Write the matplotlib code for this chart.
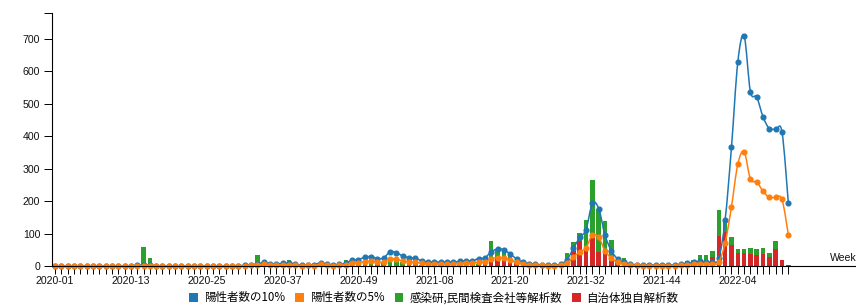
import matplotlib
matplotlib.use("Agg")
import matplotlib.pyplot as plt
from matplotlib.patches import Patch, PathPatch
from matplotlib.path import Path
import numpy as np

plt.rcParams['font.family'] = ['Liberation Sans', 'Noto Sans CJK JP', 'DejaVu Sans']

# ---- categories: weeks 2020-01 .. 2022-12 ----
weeks_per_year = {2020: 53, 2021: 52, 2022: 12}
weeks = []
for yr, n in weeks_per_year.items():
    for w in range(1, n + 1):
        weeks.append(f"{yr}-{w:02d}")

label_every = 12

# ---- series ----
# 陽性者数の10%
pos10 = [
    0, 0, 0, 0, 0, 0, 0, 0, 0, 0,          # 0-9
    0, 0, 1, 2, 3, 2, 1, 0, 0, 0,          # 10-19
    0, 0, 0, 0, 0, 0, 0, 0, 1, 1,          # 20-29
    2, 4, 6, 11, 7, 6, 8, 8, 5, 3,         # 30-39
    4, 3, 10, 5, 3, 5, 8, 18, 20, 27,      # 40-49
    29, 23, 25, 44, 41, 31, 26, 24, 16, 12,  # 50-59
    12, 12, 12, 12, 14, 16, 16, 23, 25, 44,  # 60-69
    52, 50, 37, 22, 12, 7, 5, 4, 3, 3,     # 70-79
    5, 20, 54, 88, 112, 193, 177, 95, 47, 22,  # 80-89
    12, 6, 4, 3, 3, 3, 3, 3, 3, 5,         # 90-99
    8, 11, 14, 12, 12, 24, 142, 365, 627, 709,  # 100-109
    537, 520, 459, 423, 421, 412, 194,     # 110-116
]
# 陽性者数の5%
pos5 = [
    0, 0, 0, 0, 0, 0, 0, 0, 0, 0,
    0, 0, 0.5, 1, 1.5, 1, 0.5, 0, 0, 0,
    0, 0, 0, 0, 0, 0, 0, 0, 0.5, 0.5,
    1, 2, 3, 5.5, 3.5, 3, 4, 4, 2.5, 1.5,
    2, 1.5, 5, 2.5, 1.5, 2.5, 4, 9, 10, 13.5,
    14.5, 11.5, 12.5, 22, 20.5, 15.5, 13, 12, 8, 6,
    6, 6, 6, 6, 7, 8, 8, 11.5, 12.5, 22,
    26, 25, 18.5, 11, 6, 3.5, 2.5, 2, 1.5, 1.5,
    2.5, 10, 27, 44, 56, 96, 88, 47, 24, 11,
    6, 3, 2, 1.5, 1.5, 1.5, 1.5, 1.5, 1.5, 2.5,
    4, 5.5, 7, 6, 6, 12, 71, 182, 313, 352,
    267, 259, 230, 211, 211, 205, 96,
]
# 自治体独自解析数 (red, bottom of stack)
local = [
    0, 0, 0, 0, 0, 0, 0, 0, 0, 0,
    0, 0, 0, 0, 0, 0, 0, 0, 0, 0,
    0, 0, 0, 0, 0, 0, 0, 0, 0, 0,
    0, 0, 0, 0, 0, 0, 0, 0, 0, 0,
    0, 0, 0, 0, 0, 0, 0, 0, 0, 0,
    0, 0, 0, 0, 0, 0, 0, 0, 0, 0,
    0, 0, 0, 0, 0, 0, 0, 2, 5, 14,
    25, 22, 15, 6, 3, 1, 0, 0, 0, 0,
    0, 8, 45, 78, 56, 88, 44, 38, 30, 10,
    3, 1, 0, 0, 0, 0, 0, 0, 0, 0,
    5, 8, 15, 12, 28, 91, 105, 66, 41, 41,
    38, 35, 36, 29, 51, 19, 4,
]
# 感染研,民間検査会社等解析数 (green, top of stack)
niid = [
    0, 0, 0, 0, 0, 0, 0, 0, 0, 0,
    0, 0, 0, 2, 57, 24, 2, 0, 0, 0,
    0, 0, 0, 0, 0, 0, 0, 0, 0, 0,
    2, 8, 34, 10, 6, 6, 9, 20, 5, 2,
    3, 2, 4, 3, 2, 3, 18, 8, 8, 10,
    12, 8, 10, 20, 14, 12, 6, 5, 4, 3,
    3, 3, 3, 4, 4, 4, 5, 4, 13, 62,
    25, 24, 15, 9, 5, 3, 3, 2, 2, 2,
    3, 31, 28, 25, 87, 176, 133, 102, 50, 8,
    22, 3, 3, 3, 3, 2, 3, 3, 4, 5,
    11, 12, 20, 22, 18, 80, 37, 23, 12, 12,
    17, 16, 20, 12, 25, 0, 0,
]

series_names = ['陽性者数の10%', '陽性者数の5%', '感染研,民間検査会社等解析数', '自治体独自解析数']
colors = ['#1f77b4', '#ff7f0e', '#2ca02c', '#d62728']

n = len(weeks)
assert all(len(s) == n for s in (pos10, pos5, local, niid))


def cardinal_path(xs, ys):
    """Smooth cardinal (tension 0) path through the data points, like d3.curveCardinal."""
    xs = np.asarray(xs, float)
    ys = np.asarray(ys, float)
    px = np.concatenate([[xs[0]], xs, [xs[-1]]])
    py = np.concatenate([[ys[0]], ys, [ys[-1]]])
    verts = [(xs[0], ys[0])]
    codes = [Path.MOVETO]
    for i in range(1, len(xs)):
        p0 = (px[i - 1], py[i - 1]); p1 = (px[i], py[i])
        p2 = (px[i + 1], py[i + 1]); p3 = (px[i + 2], py[i + 2])
        c1 = (p1[0] + (p2[0] - p0[0]) / 6, p1[1] + (p2[1] - p0[1]) / 6)
        c2 = (p2[0] - (p3[0] - p1[0]) / 6, p2[1] - (p3[1] - p1[1]) / 6)
        verts += [c1, c2, p2]
        codes += [Path.CURVE4] * 3
    return Path(verts, codes)


W, H = 856, 305
fig = plt.figure(figsize=(W / 100, H / 100), dpi=100)
ax_left, ax_bottom_px, ax_top_px = 52, 266, 12.7
ax = fig.add_axes([ax_left / W, 1 - ax_bottom_px / H, 1 - ax_left / W,
                   (ax_bottom_px - ax_top_px) / H])

x = np.arange(n)
px_per_week = 6.322
x0_px = 55
ax.set_xlim((ax_left - x0_px) / px_per_week, (W - x0_px) / px_per_week)
ax.set_ylim(0, 780)

bw = 0.72
ax.bar(x, local, width=bw, color=colors[3], zorder=2)
ax.bar(x, niid, width=bw, bottom=local, color=colors[2], zorder=2)

for vals, c, z in ((pos10, colors[0], 3), (pos5, colors[1], 4)):
    ax.add_patch(PathPatch(cardinal_path(x, vals), facecolor='none', edgecolor=c,
                           lw=1.1, zorder=z, clip_on=False))
    ax.plot(x, vals, linestyle='none', color=c, marker='o', ms=3.4, zorder=z, clip_on=False)

for s in ('top', 'right'):
    ax.spines[s].set_visible(False)
for s in ('left', 'bottom'):
    ax.spines[s].set_linewidth(0.8)
    ax.spines[s].set_color('black')
    ax.spines[s].set_zorder(5)

ax.set_xticks(x)
ax.set_xticklabels([w if i % label_every == 0 else '' for i, w in enumerate(weeks)])
ax.set_yticks(np.arange(0, 701, 100))
ax.set_yticks([780], minor=True)
ax.tick_params(axis='both', which='both', length=6, width=0.7, color='black',
               labelsize=7.6, labelcolor='#111111', direction='out')
ax.tick_params(axis='x', pad=1.5)
ax.tick_params(axis='y', pad=2.5)

fig.text(830 / W, 1 - 258 / H, 'Week', fontsize=7.6, ha='left', va='center', color='#111111')

handles = [Patch(facecolor=c, edgecolor='none') for c in colors]
fig.legend(handles, series_names, ncol=4, loc='center',
           bbox_to_anchor=(434 / W, 1 - 298 / H), frameon=False,
           handlelength=0.75, handleheight=0.75, handletextpad=0.5,
           columnspacing=0.9, borderaxespad=0, borderpad=0,
           prop={'family': ['Noto Sans CJK JP', 'DejaVu Sans'], 'size': 8.3})

fig.savefig('out.png', dpi=100, facecolor='white')
